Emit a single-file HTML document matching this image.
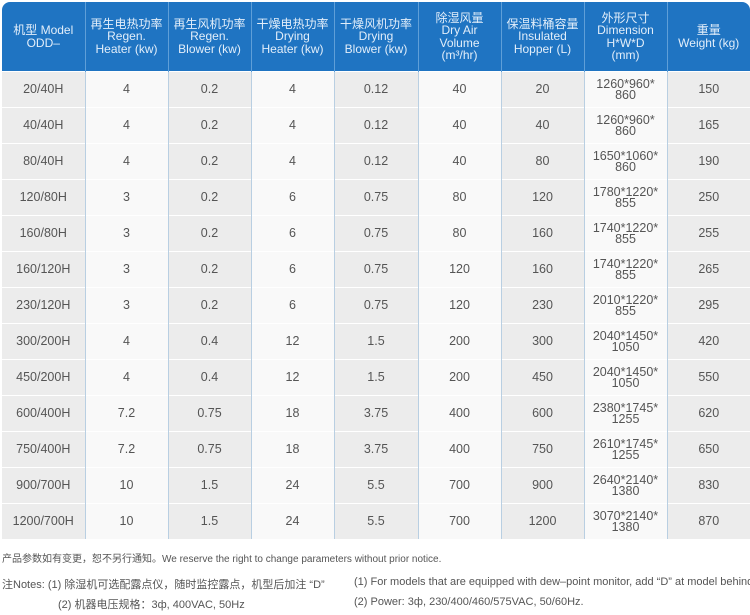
<!DOCTYPE html>
<html><head><meta charset="utf-8"><style>
body{margin:0;width:750px;height:615px;background:#fff;font-family:"Liberation Sans","Noto Sans CJK SC",sans-serif;overflow:hidden;position:relative}
table{position:absolute;left:2px;top:2px;border-collapse:collapse;table-layout:fixed;width:748px}
th{background:#1f74c2;color:#e2eefa;font-weight:normal;font-size:12px;line-height:12.5px;height:69px;border-left:1px solid #5f9fd8;padding:0}
th:first-child{border-left:none;border-top-left-radius:8px}
th:last-child{border-top-right-radius:8px}
td{height:35px;border-left:1px solid #b9cfe2;border-top:1px solid #fff;text-align:center;font-size:12.5px;color:#555;padding:0;line-height:11px}
td:first-child{border-left:none}
td:nth-child(odd){background:#ececec}
td:nth-child(even){background:#f9f9f9}
.n{position:absolute;font-size:10px;color:#555;white-space:nowrap}
</style></head><body>
<table>
<colgroup><col style="width:83px"><col style="width:83px"><col style="width:83px"><col style="width:83px"><col style="width:84px"><col style="width:83px"><col style="width:83px"><col style="width:83px"><col style="width:83px"></colgroup>
<tr><th>机型 Model<br>ODD–</th><th>再生电热功率<br>Regen.<br>Heater (kw)</th><th>再生风机功率<br>Regen.<br>Blower (kw)</th><th>干燥电热功率<br>Drying<br>Heater (kw)</th><th>干燥风机功率<br>Drying<br>Blower (kw)</th><th>除湿风量<br>Dry Air<br>Volume<br>(m³/hr)</th><th>保温料桶容量<br>Insulated<br>Hopper (L)</th><th>外形尺寸<br>Dimension<br>H*W*D<br>(mm)</th><th>重量<br>Weight (kg)</th></tr>
<tr><td>20/40H</td><td>4</td><td>0.2</td><td>4</td><td>0.12</td><td>40</td><td>20</td><td>1260*960*<br>860</td><td>150</td></tr>
<tr><td>40/40H</td><td>4</td><td>0.2</td><td>4</td><td>0.12</td><td>40</td><td>40</td><td>1260*960*<br>860</td><td>165</td></tr>
<tr><td>80/40H</td><td>4</td><td>0.2</td><td>4</td><td>0.12</td><td>40</td><td>80</td><td>1650*1060*<br>860</td><td>190</td></tr>
<tr><td>120/80H</td><td>3</td><td>0.2</td><td>6</td><td>0.75</td><td>80</td><td>120</td><td>1780*1220*<br>855</td><td>250</td></tr>
<tr><td>160/80H</td><td>3</td><td>0.2</td><td>6</td><td>0.75</td><td>80</td><td>160</td><td>1740*1220*<br>855</td><td>255</td></tr>
<tr><td>160/120H</td><td>3</td><td>0.2</td><td>6</td><td>0.75</td><td>120</td><td>160</td><td>1740*1220*<br>855</td><td>265</td></tr>
<tr><td>230/120H</td><td>3</td><td>0.2</td><td>6</td><td>0.75</td><td>120</td><td>230</td><td>2010*1220*<br>855</td><td>295</td></tr>
<tr><td>300/200H</td><td>4</td><td>0.4</td><td>12</td><td>1.5</td><td>200</td><td>300</td><td>2040*1450*<br>1050</td><td>420</td></tr>
<tr><td>450/200H</td><td>4</td><td>0.4</td><td>12</td><td>1.5</td><td>200</td><td>450</td><td>2040*1450*<br>1050</td><td>550</td></tr>
<tr><td>600/400H</td><td>7.2</td><td>0.75</td><td>18</td><td>3.75</td><td>400</td><td>600</td><td>2380*1745*<br>1255</td><td>620</td></tr>
<tr><td>750/400H</td><td>7.2</td><td>0.75</td><td>18</td><td>3.75</td><td>400</td><td>750</td><td>2610*1745*<br>1255</td><td>650</td></tr>
<tr><td>900/700H</td><td>10</td><td>1.5</td><td>24</td><td>5.5</td><td>700</td><td>900</td><td>2640*2140*<br>1380</td><td>830</td></tr>
<tr><td>1200/700H</td><td>10</td><td>1.5</td><td>24</td><td>5.5</td><td>700</td><td>1200</td><td>3070*2140*<br>1380</td><td>870</td></tr>
</table>
<div class="n" style="left:2px;top:550px">产品参数如有变更，恕不另行通知。We reserve the right to change parameters without prior notice.</div>
<div class="n" style="left:2px;top:576px;font-size:11px">注Notes: (1) 除湿机可选配露点仪，随时监控露点，机型后加注 “D”</div>
<div class="n" style="left:354px;top:576px;font-size:11px">(1) For models that are equipped with dew–point monitor, add “D” at model behind</div>
<div class="n" style="left:58px;top:596px;font-size:11px">(2) 机器电压规格：3ф, 400VAC, 50Hz</div>
<div class="n" style="left:354px;top:596px;font-size:11px">(2) Power: 3ф, 230/400/460/575VAC, 50/60Hz.</div>
</body></html>
